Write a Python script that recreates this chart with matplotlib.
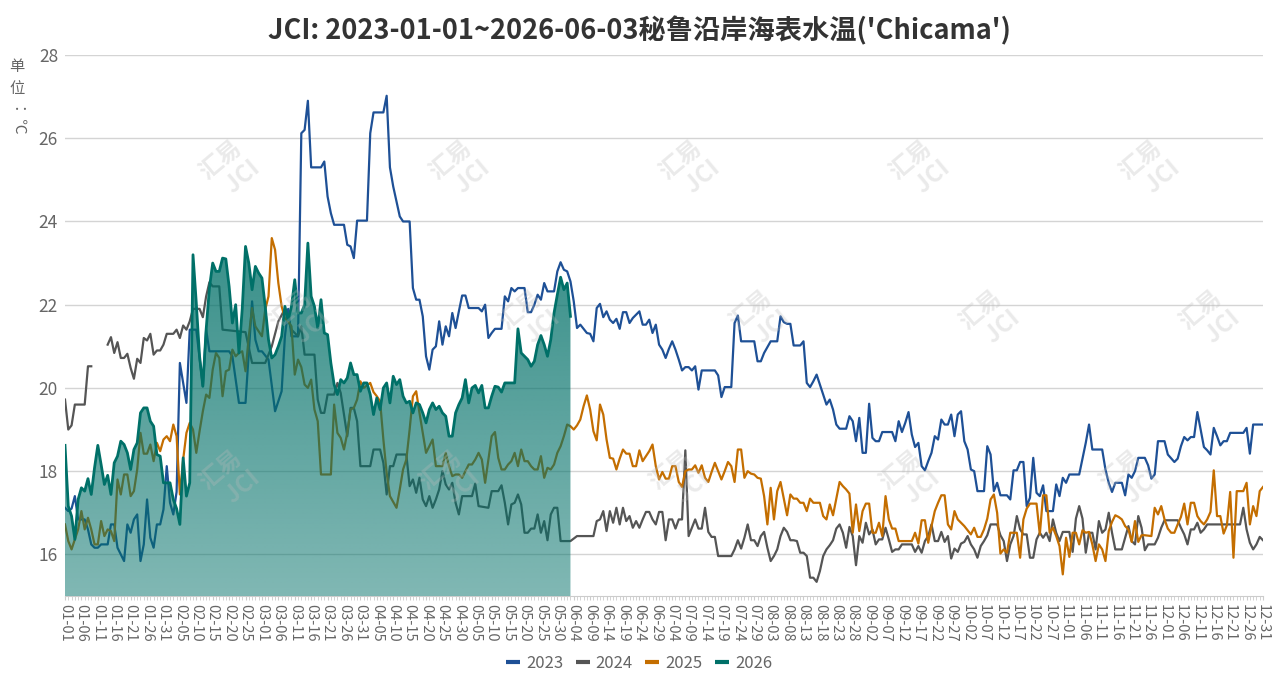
import numpy as np
import pandas as pd
import matplotlib
matplotlib.use("Agg")
import matplotlib.pyplot as plt
from matplotlib.lines import Line2D
from matplotlib.colors import to_rgb

plt.rcParams['font.family'] = ['Noto Sans CJK SC', 'DejaVu Sans']

title = "JCI: 2023-01-01~2026-06-03秘鲁沿岸海表水温('Chicama')"
years = ['2023', '2024', '2025', '2026']
colors = ['#1e5096', '#555555', '#c46e00', '#007068']

# (day of year, sea surface temp); day 0 = 01-01 (leap-year axis)
sst_2023 = [
    (0, 17.12), (1, 17.04), (2, 17.1), (3, 17.4), (4, 16.84), (6, 16.84), (7, 16.6), (8, 16.24),
    (9, 16.16), (10, 16.16), (11, 16.24), (13, 16.24), (14, 16.72), (15, 16.72), (16, 16.16),
    (17, 16.0), (18, 15.84), (19, 16.72), (20, 16.52), (21, 16.84), (22, 16.96), (23, 15.84),
    (24, 16.24), (25, 17.32), (26, 16.4), (27, 16.16), (28, 16.72), (29, 16.72), (30, 17.08),
    (31, 18.12), (32, 17.24), (33, 16.96), (34, 17.5), (35, 20.6), (37, 19.64), (38, 21.4),
    (40, 21.4), (42, 20.04), (43, 21.4), (44, 20.88), (50, 20.88), (51, 20.76), (53, 19.64),
    (55, 19.64), (56, 20.84), (57, 22.08), (58, 21.16), (59, 20.88), (60, 20.88), (62, 20.68),
    (64, 19.44), (66, 19.92), (67, 21.24), (68, 21.9), (69, 21.24), (71, 21.24), (72, 26.12),
    (73, 26.2), (74, 26.9), (75, 25.3), (78, 25.3), (79, 25.44), (80, 24.6), (81, 24.2),
    (82, 23.92), (85, 23.92), (86, 23.44), (87, 23.4), (88, 23.12), (89, 24.02), (92, 24.02),
    (93, 26.12), (94, 26.62), (97, 26.62), (98, 27.02), (99, 25.3), (100, 24.84), (102, 24.12),
    (103, 24.0), (105, 24.0), (106, 22.4), (107, 22.12), (108, 22.12), (109, 21.72), (110, 20.76),
    (111, 20.44), (112, 20.92), (113, 21.0), (114, 21.6), (115, 21.04), (116, 21.48), (117, 21.24),
    (118, 21.8), (119, 21.44), (120, 21.84), (121, 22.22), (122, 22.22), (123, 21.92), (126, 21.92),
    (127, 21.84), (128, 22.0), (129, 21.2), (130, 21.32), (131, 21.42), (133, 21.42), (134, 22.2),
    (135, 22.08), (136, 22.4), (137, 22.32), (138, 22.4), (140, 22.4), (141, 21.82), (142, 21.82),
    (143, 22.0), (144, 22.24), (145, 22.12), (146, 22.52), (147, 22.32), (149, 22.32), (150, 22.8),
    (151, 23.02), (152, 22.84), (153, 22.8), (154, 22.56), (155, 22.08), (156, 21.44), (157, 21.52),
    (158, 21.42), (159, 21.32), (160, 21.3), (161, 21.12), (162, 21.92), (163, 22.02), (164, 21.7),
    (165, 21.84), (166, 21.64), (167, 21.56), (168, 21.66), (169, 21.42), (170, 21.82), (171, 21.82),
    (172, 21.56), (173, 21.68), (175, 21.84), (176, 21.52), (177, 21.52), (178, 21.64), (179, 21.32),
    (180, 21.52), (181, 21.04), (182, 20.92), (183, 20.72), (184, 20.94), (185, 21.12), (186, 20.92),
    (187, 20.68), (188, 20.42), (189, 20.5), (190, 20.5), (191, 20.42), (192, 20.52), (193, 19.96),
    (194, 20.42), (198, 20.42), (199, 20.3), (200, 19.78), (201, 20.02), (203, 20.02), (204, 21.56),
    (205, 21.74), (206, 21.12), (210, 21.12), (211, 20.64), (212, 20.64), (213, 20.84), (214, 20.98),
    (215, 21.12), (217, 21.12), (218, 21.72), (219, 21.58), (220, 21.54), (221, 21.54), (222, 21.02),
    (224, 21.02), (225, 21.12), (226, 20.12), (227, 20.02), (228, 20.16), (229, 20.32), (230, 20.08),
    (232, 19.6), (233, 19.72), (234, 19.48), (235, 19.12), (236, 19.02), (238, 19.02), (239, 19.32),
    (240, 19.2), (241, 18.72), (242, 19.28), (243, 18.44), (244, 18.44), (245, 19.62), (246, 18.8),
    (247, 18.72), (248, 18.72), (249, 18.94), (252, 18.94), (253, 18.72), (254, 19.2), (255, 18.94),
    (256, 19.16), (257, 19.42), (258, 18.88), (259, 18.58), (260, 18.68), (261, 18.12), (262, 18.02),
    (263, 18.24), (264, 18.44), (265, 18.84), (266, 18.76), (267, 19.24), (268, 19.12), (269, 19.12),
    (270, 19.36), (271, 18.84), (272, 19.36), (273, 19.44), (274, 18.72), (275, 18.52), (276, 18.04),
    (277, 18.0), (278, 17.52), (280, 17.52), (281, 18.6), (282, 18.4), (283, 17.52), (284, 17.72),
    (285, 17.42), (287, 17.42), (288, 17.32), (289, 18.02), (290, 18.02), (291, 18.22), (292, 18.22),
    (293, 17.16), (294, 17.36), (295, 18.32), (296, 17.48), (297, 17.4), (298, 17.66), (299, 17.04),
    (301, 17.04), (302, 17.68), (303, 17.4), (304, 17.84), (305, 17.72), (306, 17.92), (309, 17.92),
    (310, 18.3), (311, 18.68), (312, 19.12), (313, 18.52), (316, 18.52), (317, 18.04), (318, 17.72),
    (319, 17.5), (320, 17.72), (322, 17.72), (323, 17.42), (324, 17.92), (325, 17.84), (326, 18.0),
    (327, 18.32), (329, 18.32), (330, 18.14), (331, 17.82), (332, 17.92), (333, 18.72), (335, 18.72),
    (336, 18.4), (338, 18.22), (339, 18.3), (340, 18.6), (341, 18.82), (342, 18.74), (343, 18.82),
    (344, 18.82), (345, 19.42), (346, 19.0), (347, 18.58), (348, 18.5), (349, 18.4), (350, 19.04),
    (351, 18.84), (352, 18.62), (353, 18.72), (354, 18.72), (355, 18.92), (359, 18.92), (360, 19.04),
    (361, 18.42), (362, 19.12), (365, 19.12),
]

sst_2024 = [
    (0, 19.72), (1, 19.0), (2, 19.1), (3, 19.6), (6, 19.6), (7, 20.52), (8, 20.52), (10, np.nan),
    (13, 21.04), (14, 21.22), (15, 20.84), (16, 21.1), (17, 20.72), (18, 20.72), (19, 20.82),
    (20, 20.48), (21, 20.22), (22, 20.7), (23, 20.6), (24, 21.2), (25, 21.14), (26, 21.3), (27, 20.8),
    (28, 20.9), (29, 20.9), (30, 21.04), (31, 21.3), (33, 21.3), (34, 21.4), (35, 21.2), (36, 21.5),
    (37, 21.4), (38, 21.6), (39, 21.9), (41, 21.9), (42, 21.7), (43, 22.2), (44, 22.54), (45, 22.44),
    (47, 22.44), (48, 21.4), (55, 21.34), (57, 20.6), (61, 20.6), (63, 21.0), (65, 21.6), (67, 21.9),
    (69, 21.4), (71, 21.24), (72, 21.48), (73, 20.8), (76, 20.8), (77, 19.72), (78, 19.4), (79, 19.4),
    (80, 19.84), (82, 19.84), (83, 20.12), (84, 19.88), (86, 18.84), (87, 19.52), (88, 19.52),
    (89, 19.2), (90, 18.12), (93, 18.12), (94, 18.52), (96, 18.52), (97, 18.2), (98, 17.44),
    (99, 18.12), (100, 18.12), (101, 18.4), (104, 18.4), (105, 17.64), (106, 17.8), (107, 17.48),
    (108, 17.84), (109, 17.32), (110, 17.16), (111, 17.4), (112, 17.12), (113, 17.32), (114, 17.56),
    (115, 18.0), (116, 17.68), (117, 17.56), (118, 17.72), (119, 17.24), (120, 16.96), (121, 17.4),
    (124, 17.4), (125, 17.7), (126, 17.16), (129, 17.12), (130, 17.52), (132, 17.52), (133, 17.66),
    (134, 17.24), (135, 16.72), (136, 17.2), (137, 17.24), (138, 17.44), (139, 17.2), (140, 16.52),
    (141, 16.52), (142, 16.62), (143, 16.62), (144, 16.96), (145, 16.52), (146, 16.8), (147, 16.34),
    (148, 16.96), (149, 17.12), (150, 17.12), (151, 16.32), (154, 16.32), (156, 16.44), (161, 16.44),
    (162, 16.8), (163, 16.84), (164, 17.04), (165, 16.56), (166, 17.04), (167, 16.76), (168, 17.12),
    (169, 16.72), (170, 17.12), (171, 16.8), (172, 16.92), (173, 16.64), (174, 16.8), (175, 16.64),
    (176, 16.84), (177, 17.02), (178, 17.02), (179, 16.84), (180, 16.72), (181, 17.02), (182, 17.02),
    (183, 16.34), (184, 16.84), (185, 16.84), (186, 16.62), (187, 16.84), (188, 16.84), (189, 18.5),
    (190, 16.44), (191, 16.64), (192, 16.84), (193, 16.62), (194, 16.62), (195, 17.12), (196, 16.54),
    (197, 16.42), (198, 16.42), (199, 15.96), (203, 15.96), (204, 16.12), (205, 16.34), (206, 16.14),
    (207, 16.4), (208, 16.72), (209, 16.34), (210, 16.34), (211, 16.2), (212, 16.44), (213, 16.54),
    (214, 16.16), (215, 15.84), (216, 15.96), (217, 16.12), (218, 16.44), (219, 16.64), (220, 16.54),
    (221, 16.34), (222, 16.34), (223, 16.32), (224, 16.04), (225, 16.04), (226, 15.96), (227, 15.44),
    (228, 15.44), (229, 15.34), (230, 15.6), (231, 15.96), (232, 16.12), (233, 16.22), (234, 16.34),
    (235, 16.62), (236, 16.72), (237, 16.52), (238, 16.16), (239, 16.66), (240, 16.44), (241, 15.74),
    (242, 16.44), (243, 16.28), (244, 16.76), (245, 16.48), (246, 16.6), (247, 16.24), (248, 16.36),
    (249, 16.36), (250, 16.64), (251, 16.36), (252, 16.06), (253, 16.12), (254, 16.12), (255, 16.24),
    (258, 16.24), (259, 16.06), (260, 16.2), (261, 16.04), (262, 16.32), (263, 16.44), (264, 16.72),
    (265, 16.32), (266, 16.32), (267, 16.54), (268, 16.3), (269, 16.44), (270, 15.9), (271, 16.14),
    (272, 16.06), (273, 16.26), (274, 16.3), (275, 16.44), (276, 16.24), (277, 16.12), (278, 15.92),
    (279, 16.2), (280, 16.32), (281, 16.46), (282, 16.72), (284, 16.72), (285, 16.46), (286, 16.32),
    (287, 15.84), (288, 16.24), (289, 16.44), (290, 16.92), (291, 16.6), (292, 16.48), (293, 16.48),
    (294, 15.92), (295, 15.92), (296, 16.36), (297, 16.52), (298, 16.4), (299, 16.52), (300, 16.32),
    (301, 16.84), (302, 16.52), (303, 16.32), (304, 16.54), (306, 16.54), (307, 16.06), (308, 16.86),
    (309, 17.16), (310, 16.86), (311, 16.04), (312, 16.52), (313, 16.52), (314, 16.12), (315, 16.8),
    (316, 16.52), (317, 16.6), (318, 17.0), (319, 16.52), (320, 16.12), (322, 16.12), (323, 16.4),
    (324, 16.68), (325, 16.32), (326, 16.24), (327, 16.92), (328, 16.64), (329, 16.1), (330, 16.24),
    (332, 16.24), (333, 16.4), (334, 16.64), (335, 16.82), (339, 16.82), (340, 16.64), (341, 16.48),
    (342, 16.24), (343, 16.6), (344, 16.6), (345, 16.76), (346, 16.52), (347, 16.6), (348, 16.72),
    (358, 16.72), (359, 17.12), (360, 16.6), (361, 16.28), (362, 16.12), (363, 16.24), (364, 16.42),
    (365, 16.34),
]

sst_2025 = [
    (0, 16.72), (1, 16.32), (2, 16.12), (3, 16.36), (4, 16.6), (5, 17.04), (6, 16.6), (7, 16.88),
    (8, 16.6), (9, 16.24), (10, 16.24), (11, 16.8), (12, 16.44), (13, 16.6), (14, 16.56), (15, 16.32),
    (16, 17.8), (17, 17.44), (18, 17.92), (19, 17.92), (20, 17.4), (21, 17.52), (22, 18.04),
    (23, 18.92), (24, 18.42), (25, 18.42), (26, 18.64), (27, 18.24), (28, 18.68), (29, 18.48),
    (30, 18.76), (31, 18.84), (32, 18.72), (33, 19.12), (34, 18.84), (35, 17.44), (36, 18.28),
    (37, 18.92), (38, 19.16), (39, 19.0), (40, 18.44), (41, 18.96), (42, 19.44), (43, 19.84),
    (44, 19.76), (45, 20.44), (46, 20.84), (47, 20.72), (48, 19.8), (49, 20.4), (50, 20.44),
    (51, 20.92), (52, 20.76), (53, 20.84), (54, 20.88), (55, 20.4), (56, 21.24), (57, 21.92),
    (58, 21.48), (60, 21.24), (61, 21.88), (62, 22.2), (63, 23.6), (64, 23.32), (65, 22.52),
    (66, 21.96), (67, 21.68), (68, 21.6), (69, 21.48), (70, 20.32), (71, 20.68), (72, 20.5),
    (73, 20.08), (74, 20.0), (75, 20.2), (76, 19.48), (77, 19.2), (78, 17.92), (81, 17.92), (82, 19.6),
    (83, 18.92), (84, 18.8), (85, 18.52), (86, 18.92), (87, 19.48), (88, 19.52), (89, 19.72),
    (90, 20.16), (91, 20.0), (93, 20.12), (94, 19.9), (95, 19.8), (96, 19.68), (97, 18.76),
    (98, 17.96), (99, 17.4), (101, 17.12), (102, 17.56), (103, 18.04), (104, 18.28), (105, 19.0),
    (106, 19.8), (107, 19.92), (108, 19.4), (109, 18.92), (110, 18.44), (111, 18.6), (112, 18.76),
    (113, 18.12), (115, 18.12), (116, 18.44), (117, 18.12), (118, 17.88), (119, 17.92), (120, 17.92),
    (121, 17.84), (123, 18.16), (124, 18.16), (125, 18.28), (126, 18.44), (127, 18.28), (128, 17.72),
    (129, 18.28), (130, 18.84), (131, 18.94), (132, 18.32), (133, 18.04), (134, 18.04), (135, 18.16),
    (136, 18.24), (137, 18.44), (138, 18.12), (139, 18.52), (140, 18.24), (141, 18.24), (142, 18.12),
    (143, 18.04), (144, 18.04), (145, 18.36), (146, 17.84), (147, 18.08), (148, 18.04), (149, 18.16),
    (150, 18.44), (151, 18.6), (152, 18.84), (153, 19.12), (154, 19.08), (155, 19.0), (156, 19.1),
    (157, 19.24), (158, 19.56), (159, 19.82), (160, 19.48), (161, 18.96), (162, 18.74), (163, 19.6),
    (164, 19.36), (165, 18.76), (166, 18.32), (167, 18.3), (168, 18.04), (169, 18.3), (170, 18.52),
    (171, 18.42), (172, 18.42), (173, 18.12), (174, 18.12), (175, 18.5), (176, 18.24), (177, 18.36),
    (178, 18.48), (179, 18.64), (180, 18.12), (181, 17.8), (182, 17.98), (183, 17.82), (184, 17.82),
    (185, 18.12), (186, 18.12), (187, 17.74), (188, 17.62), (189, 18.0), (190, 18.04), (191, 18.04),
    (192, 18.14), (193, 17.96), (194, 18.14), (195, 17.84), (196, 17.74), (197, 17.98), (198, 18.2),
    (199, 18.0), (200, 17.8), (201, 18.0), (202, 18.22), (203, 18.12), (204, 17.74), (205, 18.52),
    (206, 18.52), (207, 17.84), (208, 18.0), (209, 17.94), (210, 17.92), (211, 17.84), (212, 17.82),
    (213, 17.4), (214, 16.72), (215, 17.6), (216, 16.84), (217, 17.52), (218, 17.74), (219, 17.34),
    (220, 16.94), (221, 17.44), (222, 17.34), (223, 17.34), (224, 17.24), (225, 17.24), (226, 17.04),
    (227, 17.34), (228, 17.24), (230, 17.24), (231, 16.92), (232, 16.84), (233, 17.2), (234, 16.94),
    (236, 17.74), (237, 17.64), (238, 17.56), (239, 17.46), (240, 16.52), (241, 17.2), (242, 16.56),
    (243, 17.04), (244, 17.22), (245, 17.22), (246, 16.52), (247, 16.52), (248, 16.76), (249, 16.44),
    (250, 17.4), (251, 16.84), (252, 16.62), (253, 16.62), (254, 16.32), (258, 16.32), (259, 16.52),
    (260, 16.26), (261, 16.82), (262, 16.82), (263, 16.28), (264, 16.68), (265, 17.04), (266, 17.24),
    (267, 17.42), (268, 17.42), (269, 16.72), (270, 16.6), (271, 17.04), (272, 16.84), (273, 16.76),
    (274, 16.68), (275, 16.58), (276, 16.48), (277, 16.64), (278, 16.42), (279, 16.42), (280, 16.6),
    (281, 16.86), (282, 17.32), (283, 17.44), (284, 17.0), (285, 16.02), (286, 16.12), (287, 16.04),
    (288, 16.52), (290, 16.52), (291, 15.92), (292, 16.84), (293, 17.1), (294, 17.22), (296, 17.22),
    (297, 16.48), (298, 17.42), (299, 17.42), (300, 16.52), (301, 16.64), (302, 16.44), (303, 16.2),
    (304, 15.52), (305, 16.4), (306, 15.94), (307, 16.52), (308, 16.52), (309, 16.24), (310, 16.58),
    (311, 16.52), (312, 16.54), (313, 16.24), (314, 15.84), (315, 16.24), (316, 16.12), (317, 15.84),
    (318, 16.56), (319, 16.78), (320, 16.94), (321, 16.9), (322, 16.84), (323, 16.68), (324, 16.6),
    (325, 16.3), (326, 16.8), (327, 16.3), (328, 16.46), (329, 16.46), (331, 16.44), (332, 17.12),
    (333, 16.96), (334, 17.16), (335, 16.84), (336, 16.62), (337, 16.52), (338, 16.52), (339, 16.72),
    (340, 16.9), (341, 17.22), (342, 16.72), (343, 17.24), (344, 17.24), (345, 16.92), (346, 16.8),
    (347, 16.72), (348, 16.84), (349, 17.02), (350, 18.02), (351, 16.92), (352, 16.92), (353, 16.5),
    (354, 16.7), (355, 17.5), (356, 15.92), (357, 17.52), (359, 17.52), (360, 17.72), (361, 16.72),
    (362, 17.16), (363, 16.92), (364, 17.52), (365, 17.62),
]

sst_2026 = [
    (0, 18.62), (1, 17.16), (2, 16.92), (3, 16.36), (4, 17.32), (5, 17.6), (6, 17.52), (7, 17.82),
    (8, 17.44), (9, 18.08), (10, 18.62), (11, 18.16), (12, 17.68), (13, 17.9), (14, 17.44), (15, 18.2),
    (16, 18.36), (17, 18.72), (18, 18.64), (19, 18.44), (20, 18.04), (21, 18.52), (22, 18.68),
    (23, 19.4), (24, 19.52), (25, 19.52), (26, 19.2), (27, 19.08), (28, 18.4), (29, 18.36),
    (30, 17.72), (32, 17.72), (33, 17.32), (34, 17.1), (35, 16.72), (36, 18.32), (37, 17.4),
    (38, 17.72), (39, 23.2), (40, 22.04), (41, 20.76), (42, 20.04), (43, 21.4), (44, 22.4), (45, 23.0),
    (46, 22.8), (47, 22.8), (48, 23.12), (49, 23.1), (50, 22.44), (51, 21.56), (52, 22.0), (53, 20.84),
    (54, 21.9), (55, 23.4), (56, 23.0), (57, 22.36), (58, 22.92), (59, 22.76), (60, 22.64),
    (61, 21.96), (62, 21.16), (63, 20.72), (64, 20.8), (65, 21.0), (66, 21.24), (67, 21.96),
    (68, 21.64), (69, 21.96), (70, 22.6), (71, 21.8), (72, 21.8), (73, 22.0), (74, 23.48), (75, 22.2),
    (76, 21.96), (77, 21.44), (78, 22.12), (79, 21.32), (80, 21.28), (81, 20.6), (82, 20.08),
    (83, 19.84), (84, 20.2), (85, 20.12), (86, 20.24), (87, 20.6), (88, 20.32), (89, 20.32),
    (90, 19.92), (91, 20.12), (92, 20.12), (93, 19.84), (94, 19.36), (95, 19.76), (96, 19.48),
    (97, 20.0), (98, 20.12), (99, 19.64), (100, 20.28), (101, 20.08), (102, 20.2), (103, 19.8),
    (104, 19.64), (105, 19.68), (106, 19.4), (107, 19.64), (108, 19.6), (109, 19.4), (110, 19.16),
    (111, 19.48), (112, 19.64), (113, 19.48), (114, 19.56), (115, 19.4), (116, 19.32), (117, 18.84),
    (118, 18.84), (119, 19.4), (120, 19.6), (121, 19.76), (122, 20.2), (123, 19.64), (124, 20.0),
    (125, 20.06), (126, 19.88), (127, 20.06), (128, 19.52), (129, 19.52), (130, 19.8), (131, 20.04),
    (132, 20.02), (133, 19.9), (134, 20.12), (137, 20.12), (138, 21.42), (139, 20.84), (141, 20.68),
    (142, 20.52), (143, 20.64), (144, 21.04), (145, 21.26), (146, 21.04), (147, 20.76), (148, 21.16),
    (149, 21.8), (150, 22.24), (151, 22.66), (152, 22.36), (153, 22.52), (154, 21.72),
]

y_ticks = [16, 18, 20, 22, 24, 26, 28]
tick_days = list(range(0, 366, 5))
tick_labels = pd.date_range('2024-01-01', '2024-12-31').strftime('%m-%d')[::5].tolist()

W, H = 1278, 689
fig = plt.figure(figsize=(W / 100, H / 100), dpi=100)
ax = fig.add_axes([65 / W, 1 - 596 / H, (1263 - 65) / W, (596 - 55) / H])

series = [sst_2023, sst_2024, sst_2025, sst_2026]
for yr, data, c in zip(years, series, colors):
    d = np.array([p[0] for p in data], dtype=float)
    v = np.array([p[1] for p in data], dtype=float)
    if yr == '2026':
        # gradient area under the current year
        poly = ax.fill_between(d, v, 15, color='none', lw=0, zorder=3)
        alpha = np.linspace(0.5, 0.78, 256)
        rgba = np.zeros((256, 1, 4))
        rgba[..., :3] = to_rgb(c)
        rgba[..., 3] = alpha[:, None]
        im = ax.imshow(rgba, extent=[d.min(), d.max(), 15, np.nanmax(v)],
                       origin='lower', aspect='auto', zorder=3, interpolation='bilinear')
        im.set_clip_path(poly.get_paths()[0], transform=ax.transData)
        ax.plot(d, v, color=c, lw=2, zorder=4)
    else:
        ax.plot(d, v, color=c, lw=1.6, zorder=2)

ax.set_xlim(0, 365)
ax.set_ylim(15, 28)
ax.set_yticks(y_ticks)
ax.set_yticklabels([str(t) for t in y_ticks], fontweight='light')
ax.set_xticks(tick_days)
ax.set_xticklabels(tick_labels, rotation=-90, fontweight='light')
ax.set_xticks(range(366), minor=True)

ax.tick_params(axis='y', length=0, pad=5, labelsize=12.5, labelcolor='#666666')
ax.tick_params(axis='x', which='major', length=3, color='#cccccc', pad=3,
               labelsize=10.5, labelcolor='#666666')
ax.tick_params(axis='x', which='minor', length=3, color='#cccccc', width=0.6)
for s in ['top', 'right', 'left']:
    ax.spines[s].set_visible(False)
ax.spines['bottom'].set_color('#cccccc')
ax.yaxis.grid(True, color='#d4d4d4', lw=1)
ax.set_axisbelow(True)

# faint watermarks
wm_pos = [(230, 170), (460, 170), (690, 170), (920, 170), (1150, 170),
          (300, 320), (530, 320), (760, 320), (990, 320), (1210, 320),
          (230, 480), (450, 480), (680, 480), (910, 480), (1130, 480)]
for x, y in wm_pos:
    fig.text(x / W, 1 - y / H, '汇易\n  JCI', rotation=40, fontsize=17, color='#bbbbbb',
             alpha=0.3, ha='center', va='center', fontweight='bold', zorder=0)

fig.text(0.5, 1 - 31 / H, title, ha='center', va='center', fontsize=19.6,
         fontweight='bold', color='#333333')

fig.text(17 / W, 1 - 66 / H, '单', ha='center', va='center', fontsize=11, color='#666666')
fig.text(17 / W, 1 - 89 / H, '位', ha='center', va='center', fontsize=11, color='#666666')
fig.text(17 / W, 1 - 121 / H, '：℃', ha='center', va='center', fontsize=11, color='#666666',
         rotation=-90)

handles = [Line2D([0], [0], color=c, lw=3, solid_capstyle='butt') for c in colors]
leg = fig.legend(handles, years, loc='center', bbox_to_anchor=(0.5, 1 - 663 / H), ncol=4,
                 frameon=False, handlelength=0.85, handletextpad=0.35, columnspacing=0.75,
                 fontsize=12)
for t in leg.get_texts():
    t.set_color('#666666')
    t.set_fontweight('light')

fig.savefig('out.png', dpi=100)
